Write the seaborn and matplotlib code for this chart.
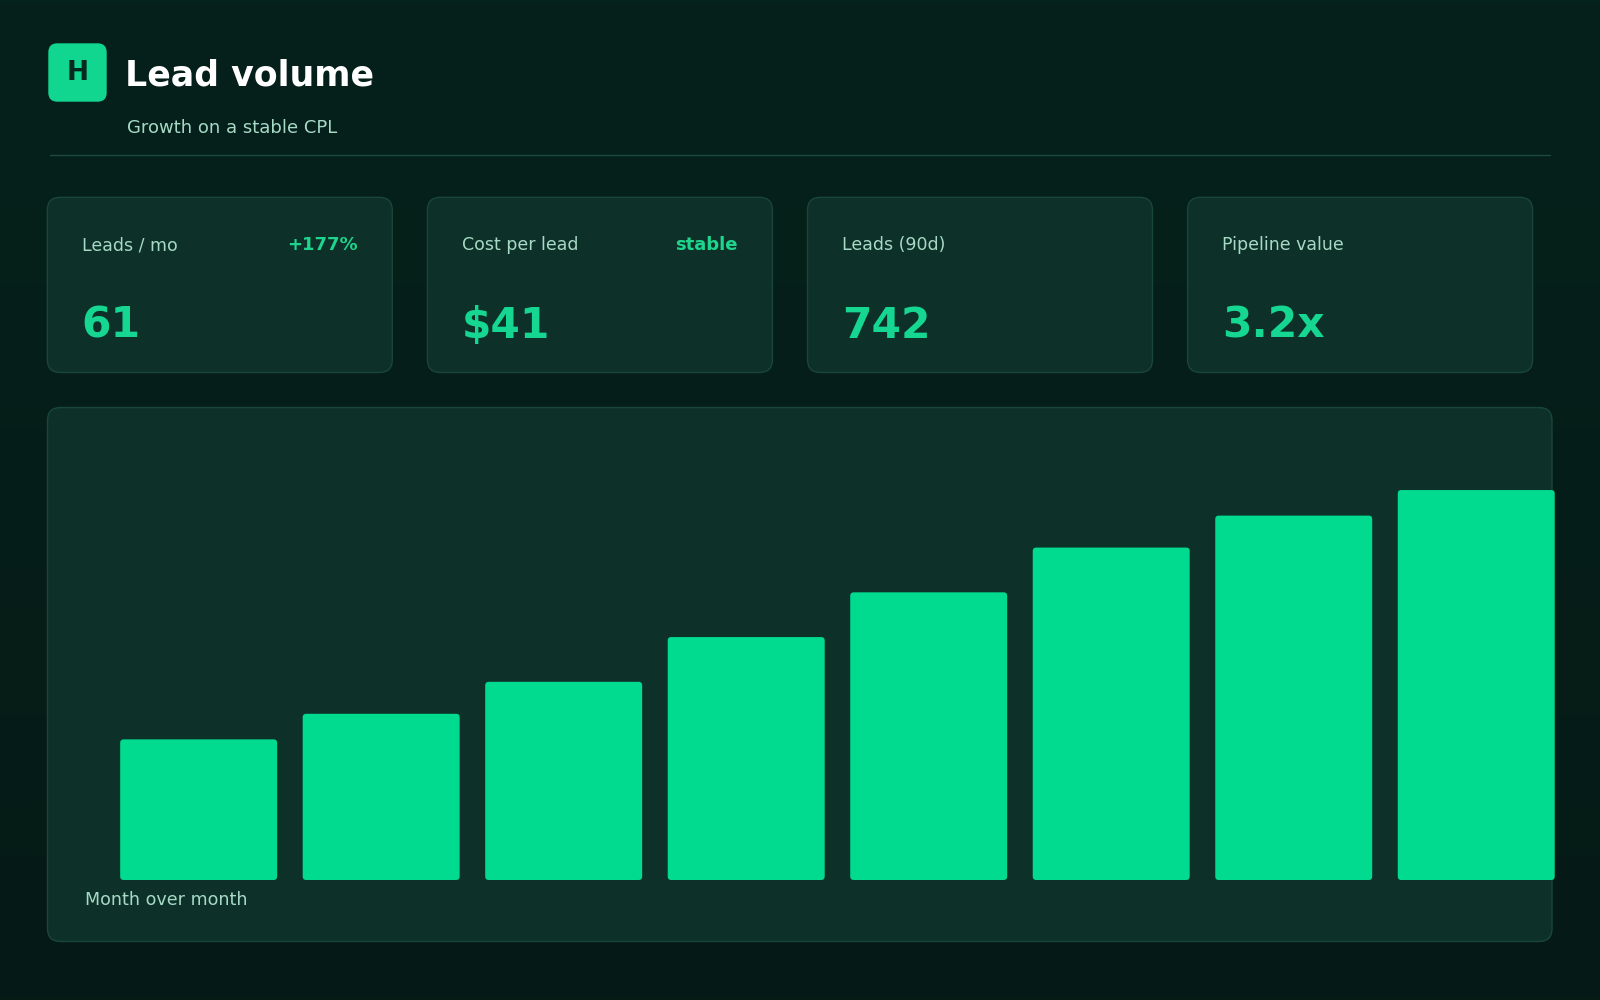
import numpy as np
import pandas as pd
import matplotlib
matplotlib.use("Agg")
import matplotlib.pyplot as plt
import seaborn as sns
from matplotlib.patches import FancyBboxPatch
from matplotlib.colors import LinearSegmentedColormap

# ---------------- data ----------------
months = ["M1", "M2", "M3", "M4", "M5", "M6", "M7", "M8"]
leads = [22, 26, 31, 38, 45, 52, 57, 61]

kpi_labels = ["Leads / mo", "Cost per lead", "Leads (90d)", "Pipeline value"]
kpi_values = ["61", "$41", "742", "3.2x"]
kpi_badges = ["+177%", "stable", "", ""]

title = "Lead volume"
subtitle = "Growth on a stable CPL"
icon_letter = "H"
chart_caption = "Month over month"

# ---------------- style ----------------
BG_TOP = "#05211b"
BG_BOT = "#061a16"
CARD = "#0d3129"
CARD_EDGE = "#1a4639"
BAR = "#00db8f"
ICON = "#10d690"
ICON_TXT = "#062a20"
LABEL = "#a6dac5"
ACCENT = "#1fd58e"
VALUE = "#16d792"
WHITE = "#ffffff"
DIVIDER = "#1d4a3f"

sns.set_theme(style="dark")
plt.rcParams["font.family"] = ["DejaVu Sans"]

W, H = 1600, 1000
fig = plt.figure(figsize=(16, 10), dpi=100)
fig.patch.set_facecolor(BG_BOT)

bg = fig.add_axes([0, 0, 1, 1])
bg.axis("off")
grad = np.linspace(0, 1, 256).reshape(-1, 1)
cmap = LinearSegmentedColormap.from_list("bg", [BG_TOP, BG_BOT])
bg.imshow(grad, extent=[0, W, H, 0], cmap=cmap, aspect="auto", zorder=0)
bg.set_xlim(0, W)
bg.set_ylim(H, 0)


def rbox(ax, x0, y0, x1, y1, r, fc, ec=None, lw=0, z=1):
    p = FancyBboxPatch((x0, y0), x1 - x0, y1 - y0,
                       boxstyle=f"round,pad=0,rounding_size={r}",
                       fc=fc, ec=ec if ec else fc, lw=lw, zorder=z)
    ax.add_patch(p)
    return p


# header
rbox(bg, 48.3, 43.3, 106.7, 101.7, 9, ICON, z=2)
bg.text(77.5, 72.5, icon_letter, ha="center", va="center", fontsize=19,
        fontweight="bold", color=ICON_TXT, zorder=3)
bg.text(125, 85, title, ha="left", va="baseline", fontsize=25,
        fontweight="bold", color=WHITE, zorder=3)
bg.text(127, 133, subtitle, ha="left", va="baseline", fontsize=13,
        color=LABEL, zorder=3)
bg.plot([50, 1550], [155, 155], color=DIVIDER, lw=1, zorder=2)

# KPI cards
card_x0 = 47.3
card_w = 345
card_pitch = 380.1
card_y0, card_y1 = 197.3, 372.5
pad = 34.5
for i, (lab, val, badge) in enumerate(zip(kpi_labels, kpi_values, kpi_badges)):
    x0 = card_x0 + i * card_pitch
    x1 = x0 + card_w
    rbox(bg, x0, card_y0, x1, card_y1, 13, CARD, CARD_EDGE, 1, z=2)
    bg.text(x0 + pad, 250.5, lab, ha="left", va="baseline", fontsize=12.5,
            color=LABEL, zorder=3)
    if badge:
        bg.text(x1 - pad, 250, badge, ha="right", va="baseline", fontsize=13,
                fontweight="bold", color=ACCENT, zorder=3)
    bg.text(x0 + pad, 338, val, ha="left", va="baseline", fontsize=30.5,
            fontweight="bold", color=VALUE, zorder=3)

# chart panel
rbox(bg, 47.5, 407.5, 1552, 941.5, 13, CARD, CARD_EDGE, 1, z=2)
bg.text(85, 905, chart_caption, ha="left", va="baseline", fontsize=12.6,
        color=LABEL, zorder=3)

# ---------------- bar chart ----------------
ax_left, ax_right = 107.4, 1567.5
ax_bottom, ax_top = 880.0, 432.5
ax = fig.add_axes([ax_left / W, (H - ax_bottom) / H,
                   (ax_right - ax_left) / W, (ax_bottom - ax_top) / H])
ax.set_facecolor("none")
ax.patch.set_alpha(0)

df = pd.DataFrame({"month": months, "leads": leads})
sns.barplot(data=df, x="month", y="leads", color=BAR, saturation=1,
            width=0.86, ax=ax, linewidth=0)
ax.set_xlim(-0.5, len(months) - 0.5)
ax.set_ylim(0, 70)

# rounded corners on the bars, using each bar's own geometry
px_per_x = (ax_right - ax_left) / (len(months))
px_per_y = (ax_bottom - ax_top) / 70
r_px = 3.5
for p in list(ax.patches):
    x, y, w, h = p.get_x(), p.get_y(), p.get_width(), p.get_height()
    fc = p.get_facecolor()
    p.remove()
    rb = FancyBboxPatch((x, y), w, h,
                        boxstyle=f"round,pad=0,rounding_size={r_px / px_per_x}",
                        mutation_aspect=px_per_x / px_per_y,
                        fc=fc, ec="none", lw=0, clip_on=False)
    ax.add_patch(rb)

for s in ax.spines.values():
    s.set_visible(False)
ax.set_xticks([])
ax.set_yticks([])
ax.set_xlabel("")
ax.set_ylabel("")
ax.grid(False)

fig.savefig("out.png", dpi=100, facecolor=fig.get_facecolor())
